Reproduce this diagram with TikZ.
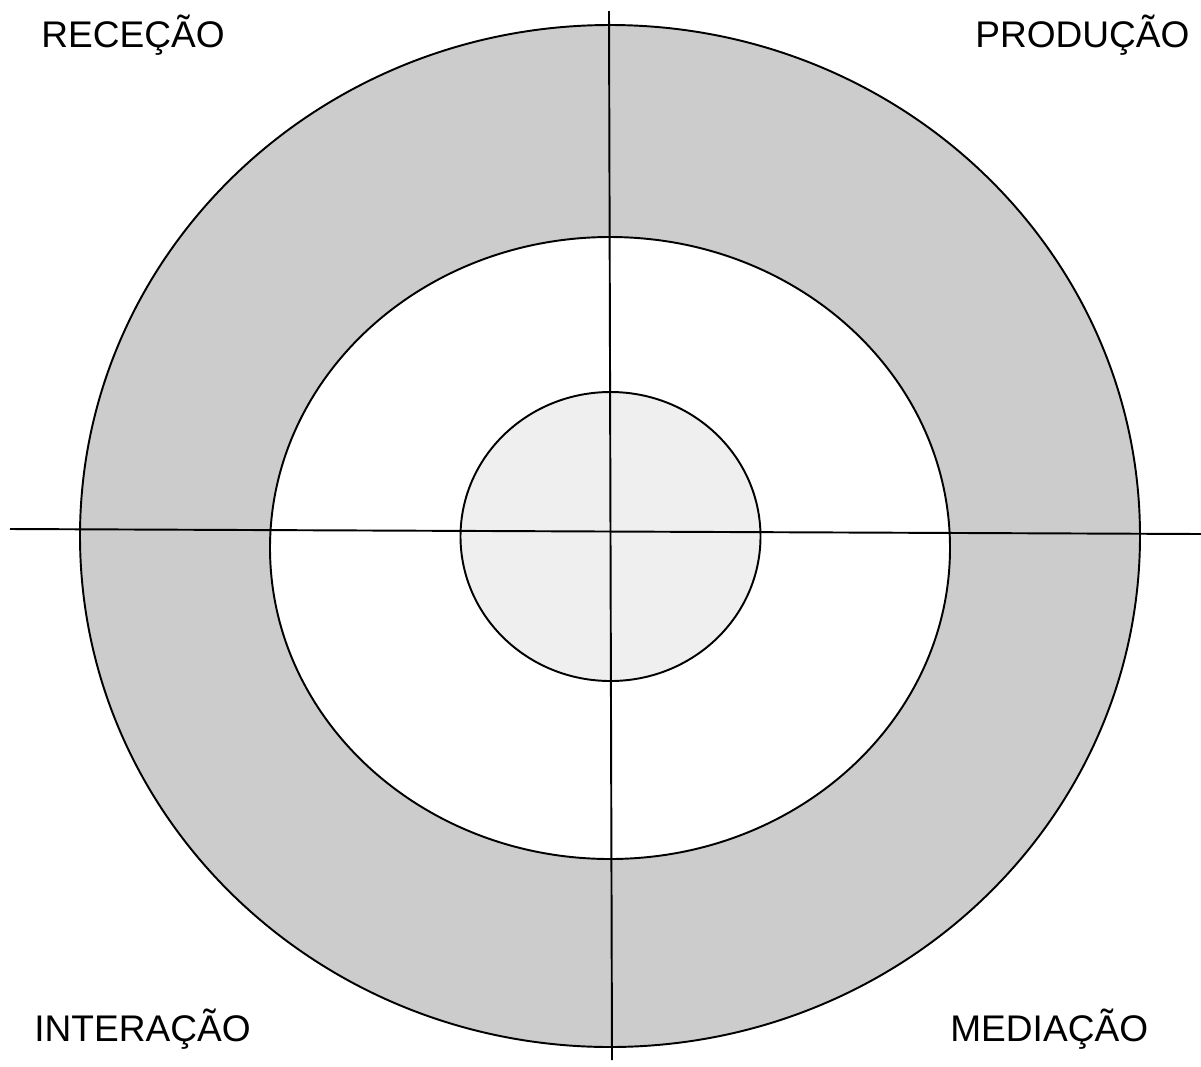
\documentclass[tikz,border=0pt]{standalone}
\usepackage{fontspec}
\setmainfont{Liberation Sans}
\usepackage{tikz}
\definecolor{ringgray}{HTML}{CCCCCC}
\definecolor{coregray}{HTML}{EFEFEF}
\tikzset{ring/.style={draw=black, line width=1.1pt},
  axis/.style={draw=black, line width=1.1pt},
  label/.style={inner sep=0pt, anchor=base west, font=\fontsize{21.1}{25}\selectfont}
}
\begin{document}
\begin{tikzpicture}[x=0.02cm, y=-0.02cm]
      \useasboundingbox (0,0) rectangle (1201,1066);
      \draw[ring, fill=ringgray] (610,536) ellipse [x radius=530, y radius=511];
      \draw[ring, fill=white] (610,548) ellipse [x radius=340, y radius=311];
      \draw[ring, fill=coregray] (610.5,536.5) ellipse [x radius=150, y radius=144.5];
      \coordinate (top) at (609,11);
      \coordinate (bottom) at (612,1060);
      \coordinate (left) at (10,529);
      \coordinate (right) at (1201,534);
      \draw[axis] (top)--(bottom);
      \draw[axis] (left)--(right);
      \node[label] (rececao) at (41,47) {RECEÇÃO};
      \node[label] (producao) at (975,47) {PRODUÇÃO};
      \node[label] (interacao) at (34,1041) {INTERAÇÃO};
      \node[label] (mediacao) at (950,1041) {MEDIAÇÃO};
    \end{tikzpicture}
\end{document}
